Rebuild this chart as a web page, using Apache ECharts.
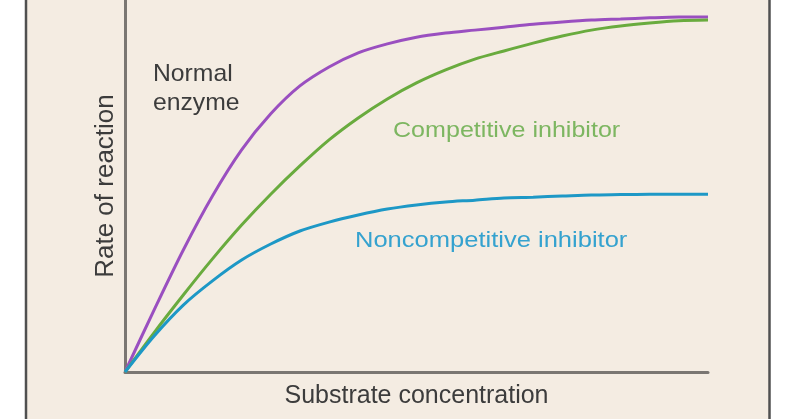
<!DOCTYPE html>
<html>
<head>
<meta charset="utf-8">
<style>
html,body{margin:0;padding:0;background:#ffffff;}
#chart{width:800px;height:419px;}
</style>
<script src="https://cdn.jsdelivr.net/npm/echarts@6/dist/echarts.min.js"></script>
</head>
<body>
<div id="chart"></div>
<script>
// Substrate concentration (relative, 0-100)
var substrate = [0,5,10,15,20,25,30,35,40,45,50,55,60,65,70,75,80,85,90,95,100];
// Rate of reaction (relative, 0-100)
var normalEnzyme = [0,16.7,32.8,47.3,59.7,69.4,76.9,82.0,85.8,88.2,90.0,91.1,91.9,92.7,93.5,94.1,94.6,94.9,95.2,95.4,95.4];
var competitiveInhibitor = [0,10.6,20.7,30.4,39.5,47.8,55.4,62.4,68.3,73.4,77.7,81.2,84.1,86.3,88.4,90.3,91.9,93.0,93.8,94.4,94.6];
var noncompetitiveInhibitor = [0,9.7,18.0,24.5,30.1,34.4,37.9,40.3,42.2,43.8,44.9,45.7,46.2,46.8,47.0,47.3,47.6,47.7,47.8,47.8,47.8];
var xAxisTitle = 'Substrate concentration';
var yAxisTitle = 'Rate of reaction';
var seriesNames = ['Normal\nenzyme', 'Competitive inhibitor', 'Noncompetitive inhibitor'];

function pairs(ys){ return substrate.map(function(x,i){ return [x, ys[i]]; }); }

var chart = echarts.init(document.getElementById('chart'), null, {renderer:'canvas'});
var axisColor = '#7a7672';
var font = '"Liberation Sans", Arial, Helvetica, sans-serif';

function lineSeries(name, ys, color){
  return {
    name: name, type: 'line', data: pairs(ys), smooth: 0.3, showSymbol: false, symbol: 'none',
    lineStyle: {color: color, width: 3}, itemStyle:{color: color}, z: 3, animation: false
  };
}

chart.setOption({
  backgroundColor: '#ffffff',
  animation: false,
  grid: {left: 125, right: 92, top: 0, bottom: 47, containLabel: false},
  xAxis: {
    type: 'value', min: 0, max: 100,
    name: xAxisTitle, nameLocation: 'middle', nameGap: 12,
    nameTextStyle: {fontFamily: font, fontSize: 25, color: '#3c3c3c'},
    axisLine: {show: true, lineStyle: {color: axisColor, width: 3}},
    axisTick: {show: false}, axisLabel: {show: false}, splitLine: {show: false}
  },
  yAxis: {
    type: 'value', min: 0, max: 100,
    name: yAxisTitle, nameLocation: 'middle', nameGap: 6, nameRotate: 90,
    nameTextStyle: {fontFamily: font, fontSize: 26, color: '#3c3c3c'},
    axisLine: {show: true, lineStyle: {color: axisColor, width: 3}},
    axisTick: {show: false}, axisLabel: {show: false}, splitLine: {show: false}
  },
  graphic: [
    {type: 'rect', z: -100, silent: true, shape: {x: 27, y: 0, width: 742, height: 419}, style: {fill: '#f4ece2'}},
    {type: 'line', z: -99, silent: true, shape: {x1: 26, y1: 0, x2: 26, y2: 419}, style: {stroke: '#505050', lineWidth: 2.5}},
    {type: 'line', z: -99, silent: true, shape: {x1: 769.5, y1: 0, x2: 769.5, y2: 419}, style: {stroke: '#505050', lineWidth: 2.5}},
    {type: 'text', z: 100, x: 153, y: 60, scaleX: 1.03, style: {text: seriesNames[0], fill: '#3c3c3c', font: '24px ' + font, lineHeight: 29, textAlign: 'left', textVerticalAlign: 'top'}},
    {type: 'text', z: 100, x: 393, y: 120, scaleX: 1.14, style: {text: seriesNames[1], fill: '#7db661', font: '22px ' + font, textAlign: 'left', textVerticalAlign: 'top'}},
    {type: 'text', z: 100, x: 355, y: 230, scaleX: 1.16, style: {text: seriesNames[2], fill: '#35a2cf', font: '22px ' + font, textAlign: 'left', textVerticalAlign: 'top'}}
  ],
  series: [
    lineSeries(seriesNames[0], normalEnzyme, '#9a4fc0'),
    lineSeries(seriesNames[1], competitiveInhibitor, '#69ab3e'),
    lineSeries(seriesNames[2], noncompetitiveInhibitor, '#1d98c6')
  ]
});
</script>
</body>
</html>
